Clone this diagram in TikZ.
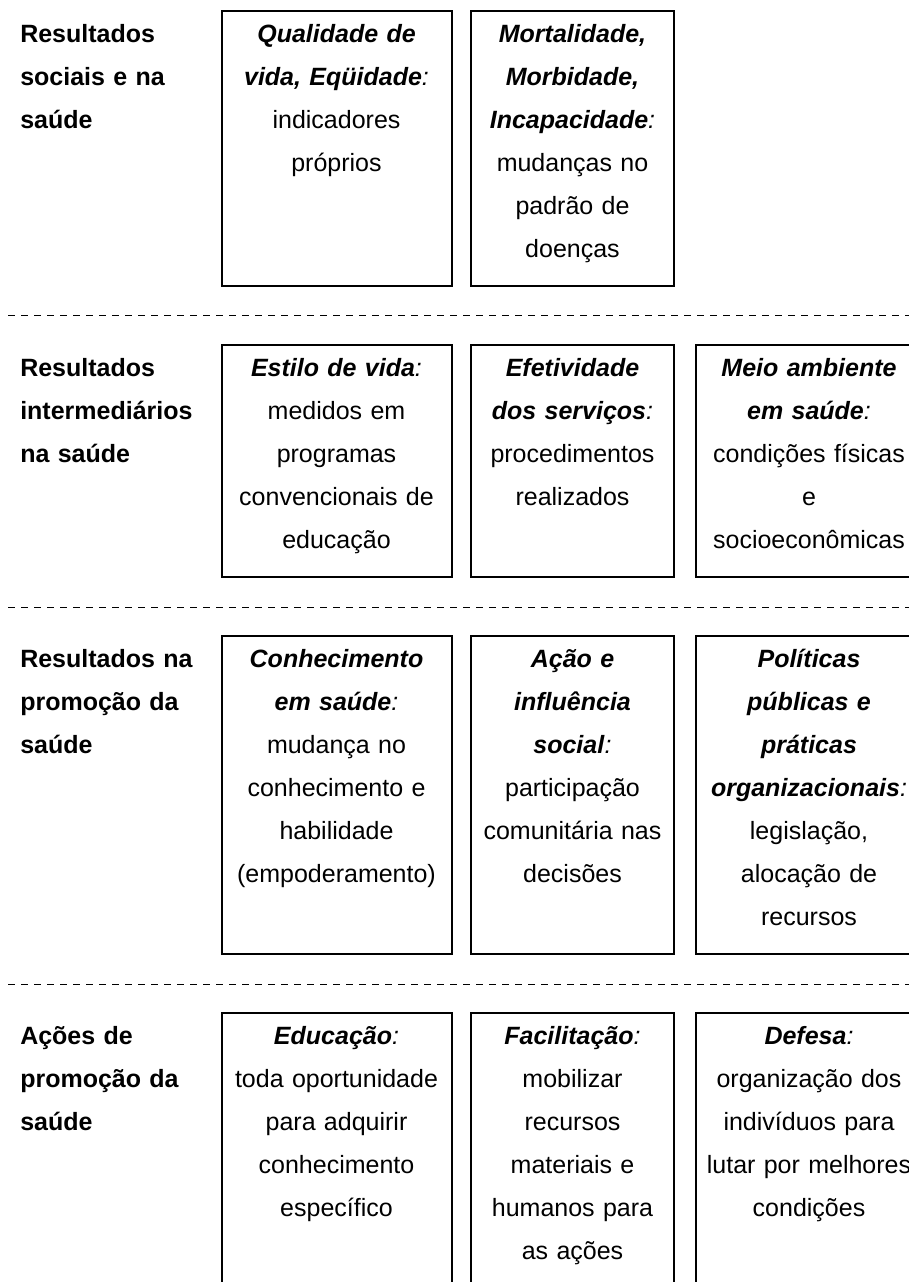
\documentclass[tikz,border=0pt]{standalone}
\usepackage{fontspec}
\setmainfont{Liberation Sans}
\newcommand{\hd}[1]{\textbf{\textit{#1}}}
\newcommand{\cl}{\textit{:}}
\begin{document}
\begin{tikzpicture}[x=0.75pt,y=0.75pt,yscale=-1,xscale=1,
  boxtext/.style={anchor=base,inner sep=0pt,align=center,font=\fontsize{18.75}{32.25}\selectfont},
  rowlabel/.style={anchor=base west,inner sep=0pt,align=left,text width=140pt,font=\fontsize{18.75}{32.25}\selectfont\bfseries},
  frame/.style={line width=1.5pt},
  sep/.style={line width=0.75pt,dash pattern=on 5.25pt off 4.5pt}]
%set diagram left start at 0, and has height of 1282
\useasboundingbox (0,0) rectangle (909,1282);
\clip (0,0) rectangle (909,1282);

%Shape: Rectangle [row 1]
\draw [frame] (221.5,11) -- (451.5,11) -- (451.5,286) -- (221.5,286) -- cycle ;
\draw [frame] (471,11) -- (674,11) -- (674,286) -- (471,286) -- cycle ;
%Straight Lines
\draw [sep] (8,315) -- (909,315) ;
%Shape: Rectangle [row 2]
\draw [frame] (221.5,345) -- (451.5,345) -- (451.5,577) -- (221.5,577) -- cycle ;
\draw [frame] (471,345) -- (674,345) -- (674,577) -- (471,577) -- cycle ;
\draw [frame] (696,345) -- (922,345) -- (922,577) -- (696,577) -- cycle ;
%Straight Lines
\draw [sep] (8,607) -- (909,607) ;
%Shape: Rectangle [row 3]
\draw [frame] (221.5,636) -- (451.5,636) -- (451.5,954) -- (221.5,954) -- cycle ;
\draw [frame] (471,636) -- (674,636) -- (674,954) -- (471,954) -- cycle ;
\draw [frame] (696,636) -- (922,636) -- (922,954) -- (696,954) -- cycle ;
%Straight Lines
\draw [sep] (8,984) -- (909,984) ;
%Shape: Rectangle [row 4]
\draw [frame] (221.5,1013) -- (451.5,1013) -- (451.5,1295) -- (221.5,1295) -- cycle ;
\draw [frame] (471,1013) -- (674,1013) -- (674,1295) -- (471,1295) -- cycle ;
\draw [frame] (696,1013) -- (922,1013) -- (922,1295) -- (696,1295) -- cycle ;

% Text Node
\node (sociais) [rowlabel] at (20,42) {Resultados\\sociais e na\\saúde};
% Text Node
\node (qualidade) [boxtext,text width=165pt] at (336.5,42) {\hd{Qualidade de}\\\hd{vida, Eqüidade}\cl\\indicadores\\próprios};
% Text Node
\node (mortalidade) [boxtext,text width=145pt] at (572.5,42) {\hd{Mortalidade,}\\\hd{Morbidade,}\\\hd{Incapacidade}\cl\\mudanças no\\padrão de\\doenças};

% Text Node
\node (intermediarios) [rowlabel] at (20,376) {Resultados\\intermediários\\na saúde};
% Text Node
\node (estilo) [boxtext,text width=165pt] at (336.5,376) {\hd{Estilo de vida}\cl\\medidos em\\programas\\convencionais de\\educação};
% Text Node
\node (efetividade) [boxtext,text width=145pt] at (572.5,376) {\hd{Efetividade}\\\hd{dos serviços}\cl\\procedimentos\\realizados};
% Text Node
\node (meio) [boxtext,text width=165pt] at (809,376) {\hd{Meio ambiente}\\\hd{em saúde}\cl\\condições físicas\\e\\socioeconômicas};

% Text Node
\node (promocao) [rowlabel] at (20,667) {Resultados na\\promoção da\\saúde};
% Text Node
\node (conhecimento) [boxtext,text width=165pt] at (336.5,667) {\hd{Conhecimento}\\\hd{em saúde}\cl\\mudança no\\conhecimento e\\habilidade\\(empoderamento)};
% Text Node
\node (acao) [boxtext,text width=145pt] at (572.5,667) {\hd{Ação e}\\\hd{influência}\\\hd{social}\cl\\participação\\comunitária nas\\decisões};
% Text Node
\node (politicas) [boxtext,text width=165pt] at (809,667) {\hd{Políticas}\\\hd{públicas e}\\\hd{práticas}\\\hd{organizacionais}\cl\\legislação,\\alocação de\\recursos};

% Text Node
\node (acoes) [rowlabel] at (20,1044) {Ações de\\promoção da\\saúde};
% Text Node
\node (educacao) [boxtext,text width=165pt] at (336.5,1044) {\hd{Educação}\cl\\toda oportunidade\\para adquirir\\conhecimento\\específico};
% Text Node
\node (facilitacao) [boxtext,text width=145pt] at (572.5,1044) {\hd{Facilitação}\cl\\mobilizar\\recursos\\materiais e\\humanos para\\as ações};
% Text Node
\node (defesa) [boxtext,text width=165pt] at (809,1044) {\hd{Defesa}\cl\\organização dos\\indivíduos para\\lutar por melhores\\condições};
\end{tikzpicture}
\end{document}
